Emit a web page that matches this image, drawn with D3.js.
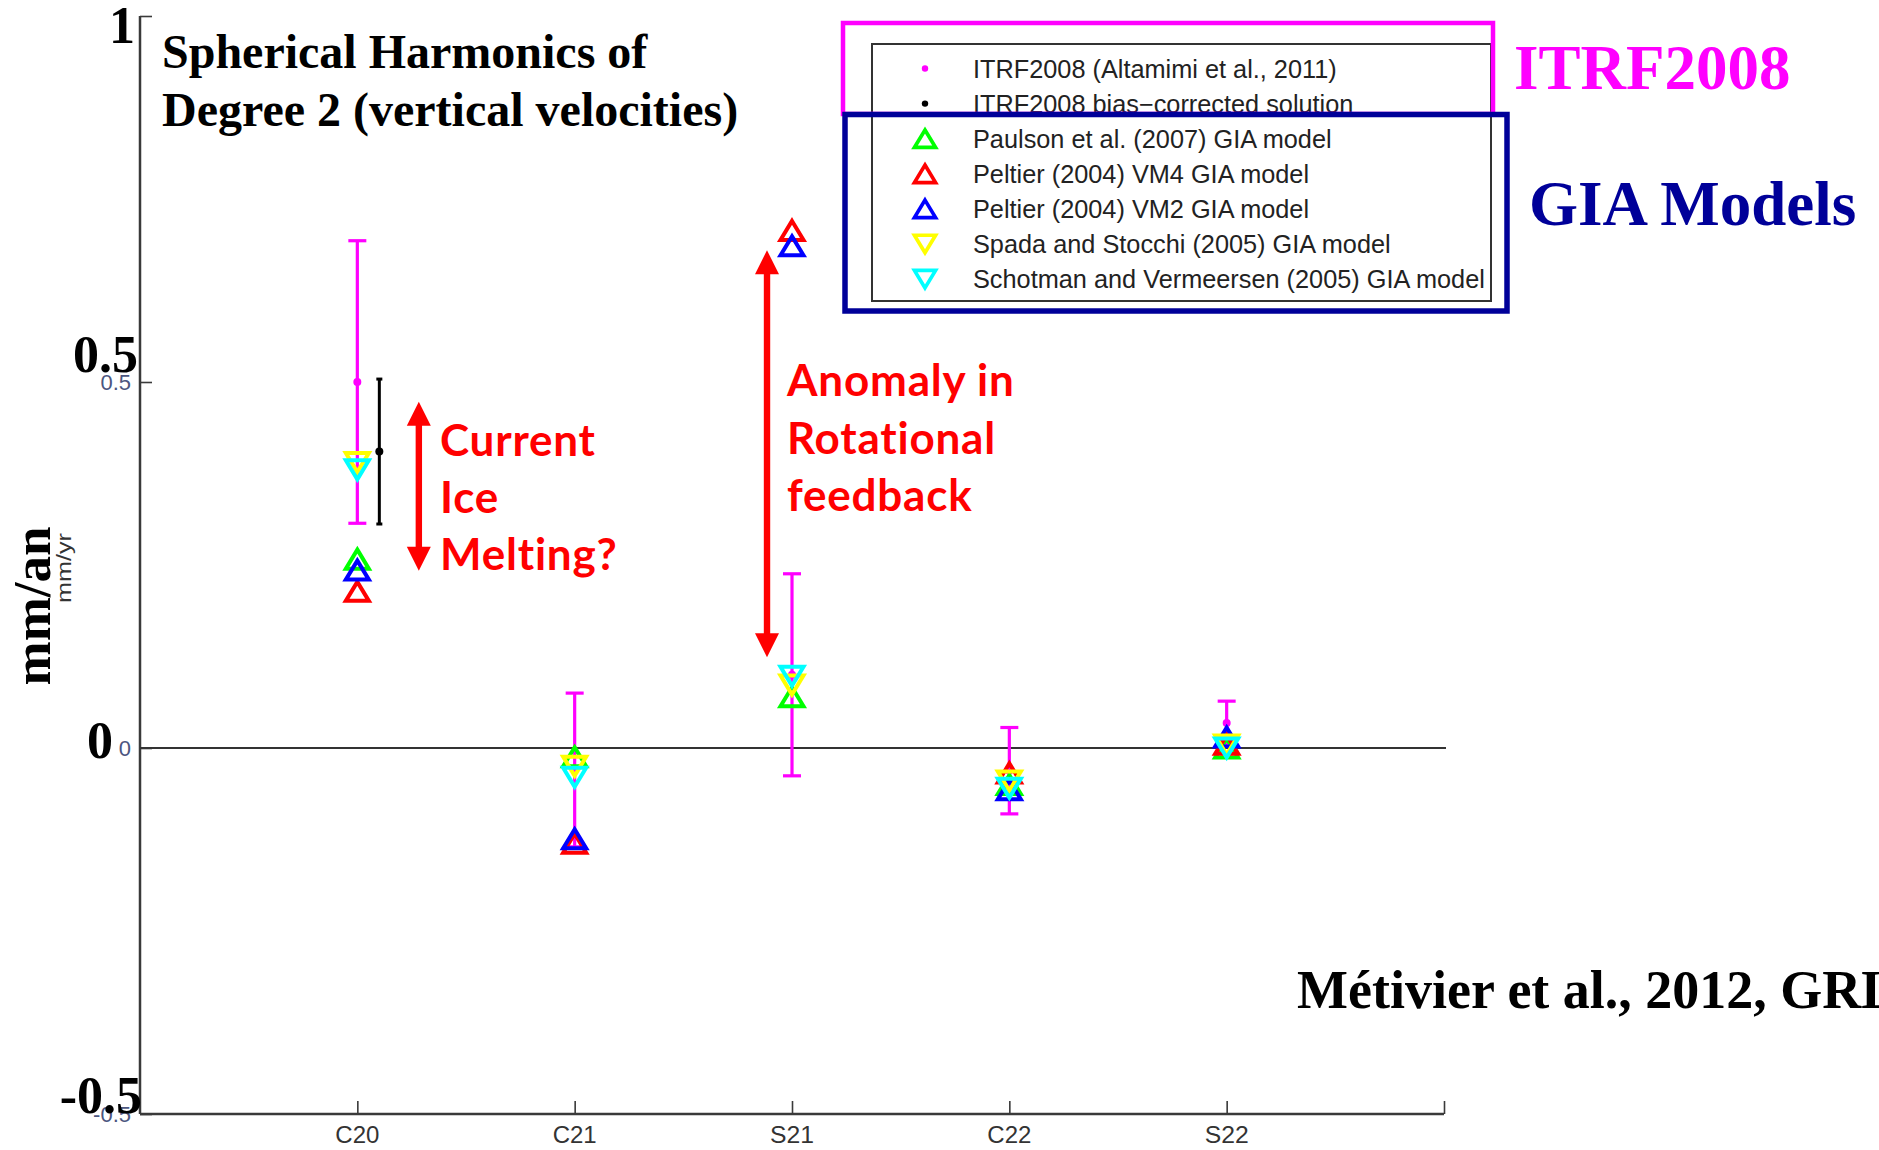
<!DOCTYPE html>
<html>
<head>
<meta charset="utf-8">
<script src="https://cdn.jsdelivr.net/npm/d3@7"></script>
<style>
  html, body { margin: 0; padding: 0; background: #fff; }
  svg { display: block; }
</style>
</head>
<body>
<svg id="chart" width="1879" height="1150"></svg>
<script>
// Degree-2 spherical harmonic coefficients of vertical velocities (mm/yr)
const harmonics = ["C20", "C21", "S21", "C22", "S22"];

// ITRF2008 solution with its uncertainty
const itrf2008    = [0.500, -0.030, 0.100, -0.031, 0.034];
const itrf2008Err = [0.193,  0.105, 0.138,  0.059, 0.030];

// ITRF2008 bias-corrected solution (C20 only)
const biasCorrected    = [0.405, null, null, null, null];
const biasCorrectedErr = [0.099, null, null, null, null];

// GIA model predictions
const paulson2007            = [0.258, -0.012, 0.070, -0.050, 0.000];
const peltierVM4             = [0.214, -0.130, 0.707, -0.034, 0.005];
const peltierVM2             = [0.243, -0.124, 0.686, -0.057, 0.015];
const spadaStocchi2005       = [0.390, -0.025, 0.086, -0.045, 0.004];
const schotmanVermeersen2005 = [0.380, -0.040, 0.098, -0.055, 0.000];

// Axis ticks
const yTicks = [-0.5, 0, 0.5, 1];
const ySmallTickValues = [-0.5, 0, 0.5];
const ySmallTickLabels = ["-0.5", "0", "0.5"];
const yBigTickValues = [1, 0.5, 0, -0.5];
const yBigTickLabels = ["1", "0.5", "0", "-0.5"];

const legendLabels = [
  "ITRF2008 (Altamimi et al., 2011)",
  "ITRF2008 bias\u2212corrected solution",
  "Paulson et al. (2007) GIA model",
  "Peltier (2004) VM4 GIA model",
  "Peltier (2004) VM2 GIA model",
  "Spada and Stocchi (2005) GIA model",
  "Schotman and Vermeersen (2005) GIA model"
];

const svg = d3.select("#chart");
svg.append("rect").attr("width", 1879).attr("height", 1150).attr("fill", "#fff");

const x = d3.scaleLinear().domain([0, 6]).range([140, 1444]);
const y = d3.scaleLinear().domain([-0.5, 1]).range([1114, 16]);

const AXIS = "#3a3a3a";
const SANS = "'Liberation Sans', Arial, sans-serif";
const SERIF = "'Liberation Serif', 'Times New Roman', serif";

// ---- axes ----
const xAxis = d3.axisBottom(x).tickValues([1, 2, 3, 4, 5, 6]).tickSize(-13).tickFormat("");
const gx = svg.append("g").attr("transform", `translate(0,${y(-0.5)})`).call(xAxis);
gx.select(".domain").attr("stroke", AXIS).attr("stroke-width", 2.5).attr("d", `M${x(0)},0H${x(6)}`);
gx.selectAll(".tick line").attr("stroke", AXIS).attr("stroke-width", 1.6);

gx.selectAll(".cat")
  .data(harmonics)
  .join("text")
  .attr("class", "cat")
  .attr("x", (d, i) => x(i + 1))
  .attr("y", 29)
  .attr("text-anchor", "middle")
  .attr("font-family", SANS)
  .attr("font-size", 23)
  .attr("fill", "#333")
  .attr("textLength", 44)
  .attr("lengthAdjust", "spacingAndGlyphs")
  .text(d => d);

const yAxis = d3.axisLeft(y).tickValues(yTicks).tickSize(-12).tickFormat("");
const gy = svg.append("g").attr("transform", `translate(${x(0)},0)`).call(yAxis);
gy.select(".domain").attr("stroke", AXIS).attr("stroke-width", 2.5).attr("d", `M0,${y(1)}V${y(-0.5)}`);
gy.selectAll(".tick line").attr("stroke", AXIS).attr("stroke-width", 1.6);

// small tick labels
svg.append("g").selectAll("text")
  .data(ySmallTickValues)
  .join("text")
  .attr("x", 131)
  .attr("y", d => y(d) + 8)
  .attr("text-anchor", "end")
  .attr("font-family", SANS)
  .attr("font-size", 22)
  .attr("fill", "#4c5680")
  .text((d, i) => ySmallTickLabels[i]);

// zero reference line
svg.append("line")
  .attr("x1", x(0)).attr("x2", x(6) + 2)
  .attr("y1", y(0)).attr("y2", y(0))
  .attr("stroke", "#333").attr("stroke-width", 2.2);

// large value labels along the axis
const bigDy = [27, -10, 10, -1];
const bigRight = [135, 138, 113, 142];
svg.append("g").selectAll("text")
  .data(yBigTickValues)
  .join("text")
  .attr("x", (d, i) => bigRight[i])
  .attr("y", (d, i) => y(d) + bigDy[i])
  .attr("text-anchor", "end")
  .attr("font-family", SERIF)
  .attr("font-weight", "bold")
  .attr("font-size", 52)
  .attr("fill", "#000")
  .text((d, i) => yBigTickLabels[i]);

// axis titles
svg.append("text")
  .attr("transform", "translate(50,606) rotate(-90)")
  .attr("text-anchor", "middle")
  .attr("font-family", SERIF)
  .attr("font-weight", "bold")
  .attr("font-size", 53)
  .attr("fill", "#000")
  .text("mm/an");

svg.append("text")
  .attr("transform", "translate(71,568) rotate(-90)")
  .attr("text-anchor", "middle")
  .attr("font-family", SANS)
  .attr("font-size", 20)
  .attr("fill", "#333")
  .attr("textLength", 70)
  .attr("lengthAdjust", "spacingAndGlyphs")
  .text("mm/yr");

// ---- title ----
const title = svg.append("text")
  .attr("font-family", SERIF)
  .attr("font-weight", "bold")
  .attr("font-size", 48)
  .attr("fill", "#000");
title.append("tspan").attr("x", 162).attr("y", 68).text("Spherical Harmonics of");
title.append("tspan").attr("x", 162).attr("y", 126).text("Degree 2 (vertical velocities)");

// ---- annotation arrows ----
const arrows = [
  { xv: 1.283, from: 0.242, to: 0.473 },
  { xv: 2.885, from: 0.124, to: 0.680 }
];
const HEAD = 24, HALF = 12;
const ag = svg.append("g").attr("fill", "#ff0000");
arrows.forEach(a => {
  const cx = x(a.xv), yTop = y(a.to), yBot = y(a.from);
  ag.append("rect")
    .attr("x", cx - 3.2).attr("width", 6.4)
    .attr("y", yTop + HEAD - 2).attr("height", (yBot - yTop) - 2 * HEAD + 4);
  ag.append("path").attr("d", `M${cx},${yTop}L${cx + HALF},${yTop + HEAD}L${cx - HALF},${yTop + HEAD}Z`);
  ag.append("path").attr("d", `M${cx},${yBot}L${cx + HALF},${yBot - HEAD}L${cx - HALF},${yBot - HEAD}Z`);
});

const RED_FONT = "Lato, 'Open Sans', sans-serif";
const t1 = svg.append("text").attr("font-family", RED_FONT).attr("font-weight", 700)
  .attr("font-size", 44).attr("letter-spacing", 0.8).attr("fill", "#ff0000");
t1.append("tspan").attr("x", 440).attr("y", 456).text("Current");
t1.append("tspan").attr("x", 440).attr("y", 513).text("Ice");
t1.append("tspan").attr("x", 440).attr("y", 570).text("Melting?");

const t2 = svg.append("text").attr("font-family", RED_FONT).attr("font-weight", 700)
  .attr("font-size", 44).attr("letter-spacing", 0.8).attr("fill", "#ff0000");
t2.append("tspan").attr("x", 787).attr("y", 396).text("Anomaly in");
t2.append("tspan").attr("x", 787).attr("y", 454).text("Rotational");
t2.append("tspan").attr("x", 787).attr("y", 511).text("feedback");

// ---- data marks ----
const TW = 11.5, TH = 9.5;
const triUp = `M0,${-TH}L${TW},${TH}L${-TW},${TH}Z`;
const triDown = `M0,${TH}L${TW},${-TH}L${-TW},${-TH}Z`;

function errorBars(vals, errs, color, dx, cap, width) {
  const rows = harmonics.map((h, i) => ({ i, v: vals[i], e: errs[i] })).filter(d => d.v !== null);
  const g = svg.append("g").attr("stroke", color).attr("stroke-width", width).attr("fill", "none");
  rows.forEach(d => {
    const cx = x(d.i + 1) + dx;
    g.append("line").attr("x1", cx).attr("x2", cx).attr("y1", y(d.v + d.e)).attr("y2", y(d.v - d.e));
    g.append("line").attr("x1", cx - cap).attr("x2", cx + cap).attr("y1", y(d.v + d.e)).attr("y2", y(d.v + d.e));
    g.append("line").attr("x1", cx - cap).attr("x2", cx + cap).attr("y1", y(d.v - d.e)).attr("y2", y(d.v - d.e));
  });
  svg.append("g").selectAll("circle").data(rows).join("circle")
    .attr("cx", d => x(d.i + 1) + dx).attr("cy", d => y(d.v)).attr("r", 4).attr("fill", color);
}

errorBars(itrf2008, itrf2008Err, "#ff00ff", 0, 9, 3.2);
errorBars(biasCorrected, biasCorrectedErr, "#000", 22, 3, 3);

const models = [
  { vals: paulson2007, color: "#00ff00", shape: triUp },
  { vals: peltierVM4, color: "#ff0000", shape: triUp },
  { vals: peltierVM2, color: "#0000ff", shape: triUp },
  { vals: spadaStocchi2005, color: "#ffff00", shape: triDown },
  { vals: schotmanVermeersen2005, color: "#00ffff", shape: triDown }
];
models.forEach(m => {
  svg.append("g").selectAll("path")
    .data(m.vals)
    .join("path")
    .attr("d", m.shape)
    .attr("transform", (d, i) => `translate(${x(i + 1)},${y(d)})`)
    .attr("fill", "none")
    .attr("stroke", m.color)
    .attr("stroke-width", 4)
    .attr("stroke-linejoin", "miter");
});

// ---- legend ----
const lg = svg.append("g");
lg.append("rect")
  .attr("x", 872).attr("y", 44).attr("width", 619).attr("height", 257)
  .attr("fill", "#fff").attr("stroke", "#333").attr("stroke-width", 2);

const rowY = i => 68.5 + i * 35.1;
legendLabels.forEach((label, i) => {
  const cy = rowY(i);
  if (i === 0 || i === 1) {
    lg.append("circle").attr("cx", 925).attr("cy", cy).attr("r", 3.2)
      .attr("fill", i === 0 ? "#ff00ff" : "#000");
  } else {
    const m = models[i - 2];
    lg.append("path").attr("d", m.shape).attr("transform", `translate(925,${cy}) scale(0.92)`)
      .attr("fill", "none").attr("stroke", m.color).attr("stroke-width", 4);
  }
  lg.append("text")
    .attr("x", 973).attr("y", cy + 9)
    .attr("font-family", SANS).attr("font-size", 25.3).attr("fill", "#222")
    .text(label);
});

// highlight boxes grouping the legend entries
svg.append("rect")
  .attr("x", 843).attr("y", 23).attr("width", 650).attr("height", 91)
  .attr("fill", "none").attr("stroke", "#ff00ff").attr("stroke-width", 4.5);
svg.append("rect")
  .attr("x", 845).attr("y", 114.5).attr("width", 662).attr("height", 196.5)
  .attr("fill", "none").attr("stroke", "#000099").attr("stroke-width", 5.5);

svg.append("text")
  .attr("x", 1514).attr("y", 89)
  .attr("font-family", SERIF).attr("font-weight", "bold").attr("font-size", 63)
  .attr("fill", "#ff00ff").text("ITRF2008");
svg.append("text")
  .attr("x", 1529).attr("y", 225)
  .attr("font-family", SERIF).attr("font-weight", "bold").attr("font-size", 63)
  .attr("fill", "#000099").text("GIA Models");

// citation
svg.append("text")
  .attr("x", 1297).attr("y", 1008)
  .attr("font-family", SERIF).attr("font-weight", "bold").attr("font-size", 54)
  .attr("fill", "#000").text("Métivier et al., 2012, GRL");
</script>
</body>
</html>
